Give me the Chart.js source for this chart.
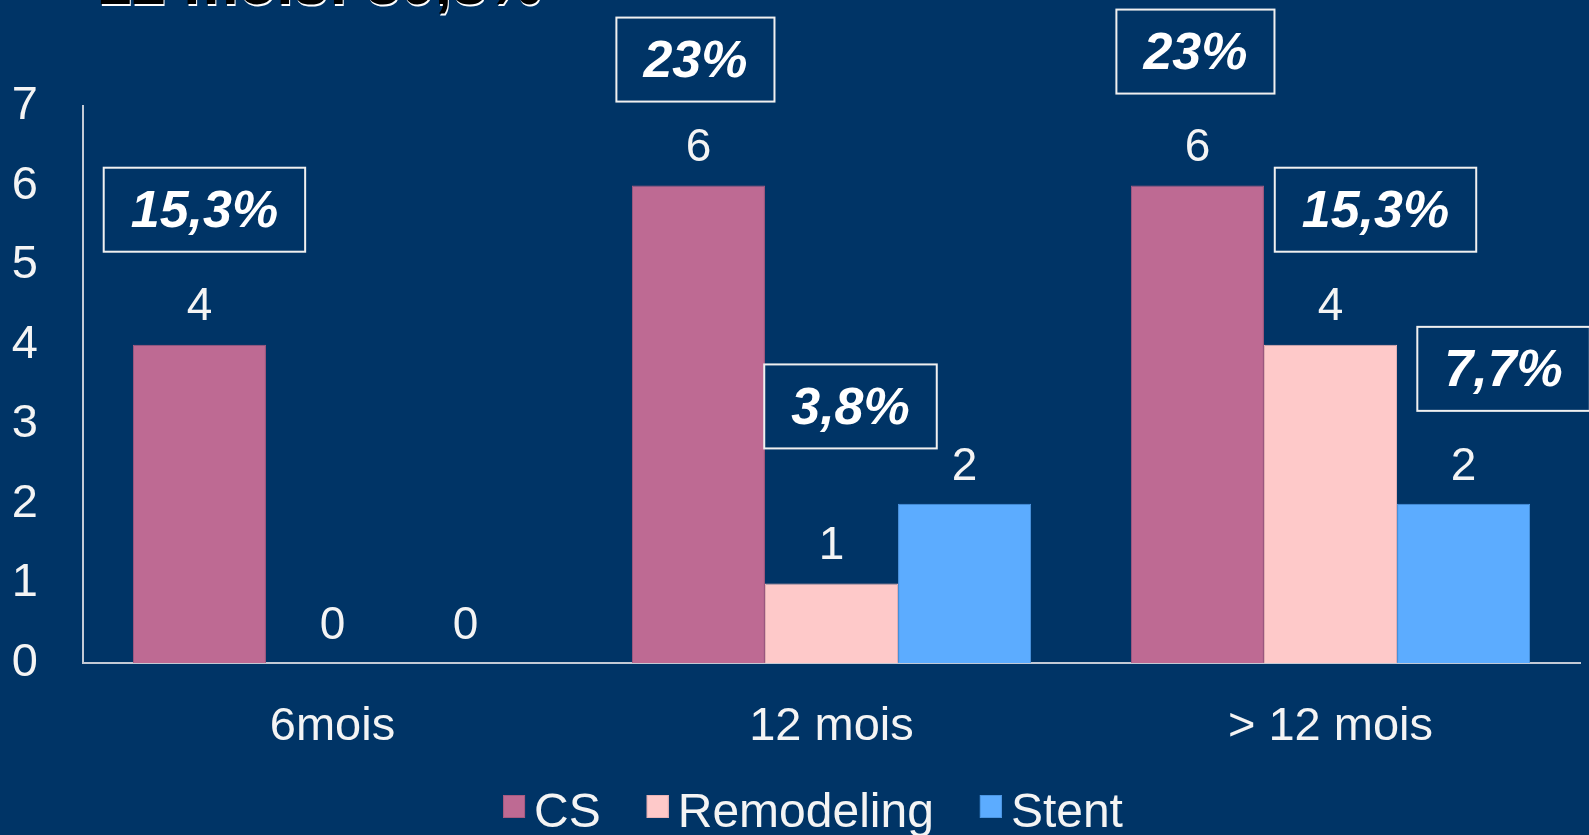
<!DOCTYPE html>
<html>
<head>
<meta charset="utf-8">
<script src="https://cdn.jsdelivr.net/npm/chart.js@4.4.1/dist/chart.umd.min.js"></script>
<style>
  html, body { margin: 0; padding: 0; background: #003466; overflow: hidden; }
</style>
</head>
<body>
<canvas id="myChart" width="1589" height="835"></canvas>
<script>
// data
const categories = ["6mois", "12 mois", "> 12 mois"];
const seriesNames = ["CS", "Remodeling", "Stent"];
const csValues = [4, 6, 6];
const remodelingValues = [0, 1, 4];
const stentValues = [0, 2, 2];
// the boxed percentages sitting over some bars
const csPct = ["15,3%", "23%", "23%"];
const remodelingPct = [null, "3,8%", "15,3%"];
const stentPct = [null, null, "7,7%"];
const yTicks = [0, 1, 2, 3, 4, 5, 6, 7];
const titleText = "12 mois: 30,8%";

// where each percent box sits relative to its bar (centre x, top of bar)
const boxShift = [
  [[5, -135], [-3, -126], [-2, -134]],
  [null, [19, -177], [45, -135]],
  [null, null, [40, -135]]
];

const colors = ["#BE6A93", "#FEC9C9", "#5CACFF"];
const borders = ["#A65A80", "#E9B3B6", "#4C96E2"];
const fontFam = "Arial, 'Liberation Sans', sans-serif";
const textCol = "#F4F4F4";

const ctx = document.getElementById("myChart").getContext("2d");

const bgPlugin = {
  id: "bg",
  beforeDraw(chart) {
    const c = chart.ctx;
    c.save();
    c.fillStyle = "#003466";
    c.fillRect(0, 0, chart.width, chart.height);
    // title cut off by the top edge
    c.font = "bold 62px " + fontFam;
    c.textBaseline = "alphabetic";
    c.textAlign = "left";
    c.fillStyle = "#ffffff";
    c.fillText(titleText, 98, 6);
    c.fillStyle = "#000000";
    c.fillText(titleText, 97, 4);
    c.restore();
  }
};

const labelPlugin = {
  id: "labels",
  afterDatasetsDraw(chart) {
    const c = chart.ctx;
    const pcts = [csPct, remodelingPct, stentPct];
    c.save();
    chart.data.datasets.forEach((ds, di) => {
      const meta = chart.getDatasetMeta(di);
      meta.data.forEach((bar, i) => {
        // value above the bar
        c.font = "46px " + fontFam;
        c.fillStyle = textCol;
        c.textAlign = "center";
        c.textBaseline = "middle";
        c.fillText(String(ds.data[i]), bar.x, bar.y - 37);

        const p = pcts[di][i];
        if (!p) return;
        const sh = boxShift[di][i];
        const cx = bar.x + sh[0];
        const cy = bar.y + sh[1];
        c.font = "italic bold 52px " + fontFam;
        const w = c.measureText(p).width + 54;
        const h = 84;
        c.strokeStyle = "#F0F0F0";
        c.lineWidth = 2;
        c.strokeRect(cx - w / 2, cy - h / 2, w, h);
        c.fillStyle = "#ffffff";
        c.fillText(p, cx, cy + 3);
      });
    });
    c.restore();
  }
};

const legendPlugin = {
  id: "myLegend",
  afterDraw(chart) {
    const c = chart.ctx;
    c.save();
    c.font = "48px " + fontFam;
    const box = 22, gap = 9, itemGap = 46;
    const widths = seriesNames.map(n => box + gap + c.measureText(n).width);
    const total = widths.reduce((a, b) => a + b, 0) + itemGap * (seriesNames.length - 1);
    let x = 813 - total / 2;
    seriesNames.forEach((n, i) => {
      c.fillStyle = colors[i];
      c.fillRect(x, 795, box, box + 1);
      c.strokeStyle = borders[i];
      c.lineWidth = 1;
      c.strokeRect(x + 0.5, 795.5, box - 1, box);
      c.fillStyle = textCol;
      c.textAlign = "left";
      c.textBaseline = "alphabetic";
      c.fillText(n, x + box + gap, 827);
      x += widths[i] + itemGap;
    });
    c.restore();
  }
};

const data = {
  labels: categories,
  datasets: [
    { label: seriesNames[0], data: csValues, backgroundColor: colors[0], borderColor: borders[0], borderWidth: 1 },
    { label: seriesNames[1], data: remodelingValues, backgroundColor: colors[1], borderColor: borders[1], borderWidth: 1 },
    { label: seriesNames[2], data: stentValues, backgroundColor: colors[2], borderColor: borders[2], borderWidth: 1 }
  ]
};

const config = {
  type: "bar",
  data: data,
  options: {
    responsive: false,
    animation: false,
    devicePixelRatio: 1,
    categoryPercentage: 0.8,
    barPercentage: 1.0,
    layout: { padding: { left: 12, right: 9, top: 106, bottom: 84 } },
    plugins: {
      legend: { display: false },
      tooltip: { enabled: false }
    },
    scales: {
      x: {
        grid: { display: false, drawTicks: false },
        border: { display: true, color: "#C3CAD6", width: 2 },
        ticks: { color: textCol, font: { family: fontFam, size: 47 }, padding: 36 },
        afterFit(scale) { scale.height = 88; }
      },
      y: {
        min: yTicks[0],
        max: yTicks[yTicks.length - 1],
        grid: { display: false, drawTicks: false },
        border: { display: true, color: "#C3CAD6", width: 2 },
        ticks: { stepSize: 1, color: textCol, font: { family: fontFam, size: 47 }, padding: 45 },
        afterFit(scale) { scale.width = 71; }
      }
    }
  },
  plugins: [bgPlugin, labelPlugin, legendPlugin]
};

const myChart = new Chart(ctx, config);
</script>
</body>
</html>
